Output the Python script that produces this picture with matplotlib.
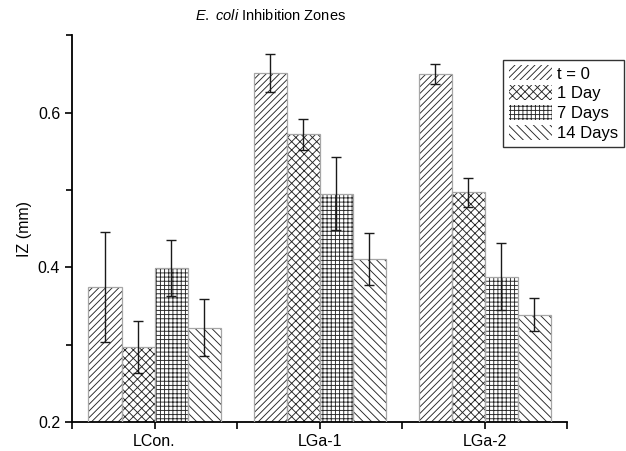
import numpy as np
import matplotlib.pyplot as plt
from matplotlib.patches import Patch
from matplotlib.ticker import FixedLocator

plt.rcParams['font.family'] = ['Liberation Sans', 'DejaVu Sans']
plt.rcParams['mathtext.fontset'] = 'custom'
plt.rcParams['mathtext.it'] = 'Liberation Sans:italic'
plt.rcParams['mathtext.rm'] = 'Liberation Sans'
plt.rcParams['hatch.linewidth'] = 0.65

groups = ["LCon.", "LGa-1", "LGa-2"]
series = ["t = 0", "1 Day", "7 Days", "14 Days"]
values = {
    "t = 0":   [0.375, 0.651, 0.650],
    "1 Day":   [0.297, 0.572, 0.497],
    "7 Days":  [0.399, 0.495, 0.388],
    "14 Days": [0.322, 0.411, 0.339],
}
errors = {
    "t = 0":   [0.071, 0.025, 0.013],
    "1 Day":   [0.034, 0.020, 0.019],
    "7 Days":  [0.036, 0.047, 0.043],
    "14 Days": [0.037, 0.034, 0.021],
}
hatches = ["/////", "xxxx", "++++", "\\\\\\\\"]

fig = plt.figure(figsize=(6.26, 4.51), dpi=100)
ax = fig.add_axes([0.115, 0.064, 0.791, 0.858])

X = np.arange(1, len(groups) + 1)
w = 0.2
handles = []
for i, name in enumerate(series):
    xs = X + (i - 1.5) * w
    ax.bar(xs, values[name], w, bottom=0, fill=False, hatch=hatches[i],
           edgecolor='0.15', lw=0, zorder=2)
    ax.bar(xs, values[name], w, bottom=0, fill=False, edgecolor='0.65',
           lw=0.9, zorder=3)
    ax.errorbar(xs, values[name], yerr=errors[name], fmt='none',
                ecolor='0.1', elinewidth=1.0, capsize=3.5, capthick=1.0,
                zorder=4)
    handles.append(Patch(facecolor='white', edgecolor='0.15',
                         hatch=hatches[i], lw=0, label=name))

ax.set_xlim(0.5, 3.5)
ax.set_ylim(0.2, 0.7)
ax.set_xticks(X)
ax.set_xticklabels(groups, fontsize=11.5)
ax.xaxis.set_minor_locator(FixedLocator([0.5, 1.5, 2.5, 3.5]))
ax.set_yticks([0.2, 0.4, 0.6])
ax.set_yticklabels(["0.2", "0.4", "0.6"], fontsize=11.5)
ax.yaxis.set_minor_locator(FixedLocator([0.3, 0.5, 0.7]))
ax.tick_params(which='both', direction='out', length=5, width=1.2)
ax.tick_params(axis='y', which='minor', length=4)

for s in ['top', 'right']:
    ax.spines[s].set_visible(False)
for s in ['left', 'bottom']:
    ax.spines[s].set_linewidth(1.3)

ax.set_ylabel("IZ (mm)", fontsize=11.5, labelpad=4)

fig.text(0.432, 0.965, "$\\it{E.\\ coli}$ Inhibition Zones", ha='center',
         va='center', fontsize=10.5)

leg = fig.legend(handles=handles, loc='upper right',
                 bbox_to_anchor=(0.997, 0.868), fontsize=12, frameon=True,
                 fancybox=False, edgecolor='black', handlelength=2.6,
                 handleheight=1.0, handletextpad=0.3, labelspacing=0.22,
                 borderpad=0.35, borderaxespad=0)
leg.get_frame().set_linewidth(1.0)

fig.savefig("out.png", dpi=100)
